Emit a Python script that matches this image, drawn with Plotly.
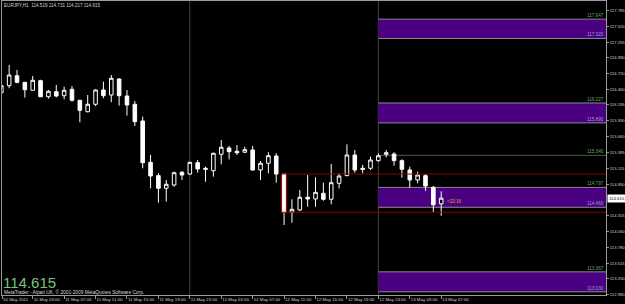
import plotly.graph_objects as go

# ---- data (EURJPY H1) ----
bar_index = list(range(57))
open_ = [116.400, 116.520, 116.689, 116.577, 116.442, 116.605, 116.333, 116.418, 116.350, 116.459,
         116.273, 116.079, 116.205, 116.447, 116.362, 116.633, 116.345, 116.205, 115.922, 115.222,
         114.996, 114.782, 114.838, 115.053, 115.024, 115.216, 115.121, 115.080, 115.358, 115.465,
         115.409, 115.392, 115.431, 115.092, 115.206, 115.329, 115.024, 114.376, 114.415, 114.630,
         114.601, 114.697, 114.596, 114.867, 114.996, 115.346, 115.121, 115.121, 115.250, 115.358,
         115.363, 115.250, 115.092, 114.923, 114.996, 114.799, 114.519]
high = [116.566, 116.870, 116.786, 116.583, 116.684, 116.620, 116.447, 116.532, 116.503, 116.515,
        116.278, 116.362, 116.459, 116.588, 116.701, 116.645, 116.447, 116.261, 115.995, 115.346,
        115.036, 114.923, 115.063, 115.075, 115.230, 115.261, 115.148, 115.385, 115.600, 115.499,
        115.515, 115.487, 115.499, 115.244, 115.392, 115.375, 115.024, 114.596, 114.753, 115.007,
        114.968, 114.877, 115.194, 115.036, 115.527, 115.431, 115.177, 115.317, 115.375, 115.431,
        115.392, 115.273, 115.148, 115.063, 115.024, 114.821, 114.731]
low = [116.362, 116.476, 116.560, 116.317, 116.442, 116.325, 116.300, 116.323, 116.290, 116.249,
       115.900, 116.070, 116.176, 116.306, 116.239, 116.181, 116.012, 115.837, 115.121, 114.782,
       114.538, 114.555, 114.809, 114.923, 115.007, 115.046, 114.894, 114.979, 115.189, 115.273,
       115.346, 115.385, 115.080, 114.923, 115.036, 114.877, 114.161, 114.199, 114.398, 114.470,
       114.470, 114.572, 114.511, 114.782, 114.990, 115.046, 115.036, 115.092, 115.233, 115.307,
       115.165, 114.962, 114.792, 114.867, 114.736, 114.376, 114.317]
close = [116.520, 116.701, 116.577, 116.452, 116.611, 116.333, 116.425, 116.345, 116.442, 116.273,
         116.103, 116.205, 116.447, 116.350, 116.645, 116.350, 116.193, 115.910, 115.216, 114.990,
         114.782, 114.850, 115.046, 115.007, 115.222, 115.109, 115.104, 115.375, 115.477, 115.402,
         115.385, 115.436, 115.092, 115.206, 115.334, 115.024, 114.376, 114.426, 114.630, 114.601,
         114.714, 114.596, 114.877, 114.990, 115.346, 115.092, 115.104, 115.261, 115.334, 115.385,
         115.250, 115.104, 114.923, 115.007, 114.821, 114.504, 114.615]

x_tick_bars = [0.1, 4, 8, 12, 16, 20, 24, 28, 32, 36, 40, 44, 48, 52, 56]
x_tick_labels = ["10 May 2011", "11 May 03:00", "11 May 07:00", "11 May 11:00", "11 May 15:00",
                 "11 May 19:00", "11 May 23:00", "12 May 03:00", "12 May 07:00", "12 May 11:00",
                 "12 May 15:00", "12 May 19:00", "12 May 23:00", "13 May 03:00", "13 May 07:00"]
y_tick_values = [117.785, 117.520, 117.255, 116.990, 116.720, 116.460, 116.195, 115.930, 115.660,
                 115.395, 115.115, 114.850, 114.315, 114.050, 113.780, 113.515, 113.250, 112.980]
y_tick_labels = ["%.3f" % v for v in y_tick_values]

# zones (top, bottom)
zones = [(117.647, 117.320), (116.227, 115.890), (114.797, 114.460), (113.367, 113.030)]
zone_labels = [("117.647", "117.320"), ("116.227", "115.890"), ("114.797", "114.460"), ("113.367", "113.030")]
zone_start_bar = 48
green_level = 115.340
red_levels = (115.024, 114.376)
red_start_bar = 36
separator_bars = [24, 48]
last_price = 114.615
header = "EURJPY,H1  114.519 114.731 114.217 114.615"

X_RANGE = [0.09, 76.98]
Y_RANGE = [112.975, 117.954]

fig = go.Figure()
fig.add_trace(go.Candlestick(
    x=bar_index, open=open_, high=high, low=low, close=close,
    increasing=dict(line=dict(color="#ffffff", width=1), fillcolor="#000000"),
    decreasing=dict(line=dict(color="#ffffff", width=1), fillcolor="#ffffff"),
    whiskerwidth=0, showlegend=False, hoverinfo="skip"))

shapes = []
for sb in separator_bars:
    shapes.append(dict(type="line", xref="x", yref="paper", x0=sb, x1=sb, y0=0, y1=1,
                       line=dict(color="#454545", width=1), layer="below"))
for top, bot in zones:
    shapes.append(dict(type="rect", xref="x", yref="y", x0=zone_start_bar, x1=X_RANGE[1],
                       y0=bot, y1=top, fillcolor="#4b0082", line=dict(width=0), layer="below"))
    for lv in (top, bot):
        shapes.append(dict(type="line", xref="x", yref="y", x0=zone_start_bar, x1=X_RANGE[1],
                           y0=lv, y1=lv, line=dict(color="#8a8a8a", width=1), layer="below"))
shapes.append(dict(type="line", xref="x", yref="y", x0=zone_start_bar, x1=X_RANGE[1],
                   y0=green_level, y1=green_level, line=dict(color="#3f623f", width=1), layer="below"))
for lv in red_levels:
    shapes.append(dict(type="line", xref="x", yref="y", x0=red_start_bar - 0.33, x1=X_RANGE[1],
                       y0=lv, y1=lv, line=dict(color="#8c0000", width=1), layer="above"))
for dx in (-0.33, 0.30):
    shapes.append(dict(type="line", xref="x", yref="y", x0=red_start_bar + dx, x1=red_start_bar + dx,
                       y0=red_levels[1], y1=red_levels[0], line=dict(color="#b00000", width=1), layer="above"))

FAM = "Liberation Sans, Arial"
small = dict(family=FAM, size=4.6)
ann = []
for (top, bot), (lt, lb) in zip(zones, zone_labels):
    ann.append(dict(xref="paper", yref="y", x=1, y=top, xanchor="right", yanchor="bottom", xshift=-1,
                    text=lt, showarrow=False, borderpad=0, font=dict(small, color="#6aa86a")))
    ann.append(dict(xref="paper", yref="y", x=1, y=bot, xanchor="right", yanchor="bottom", xshift=-1,
                    text=lb, showarrow=False, borderpad=0, font=dict(small, color="#9c9cd8")))
ann.append(dict(xref="paper", yref="y", x=1, y=green_level, xanchor="right", yanchor="bottom", xshift=-1,
                text="115.340", showarrow=False, borderpad=0, font=dict(small, color="#6aa86a")))
ann.append(dict(xref="paper", yref="y", x=1, y=last_price, xanchor="left", yanchor="middle", xshift=1,
                text="114.615", showarrow=False, borderpad=1, bgcolor="#ffffff",
                font=dict(family=FAM, size=4.3, color="#000000")))
ann.append(dict(xref="x", yref="y", x=56.6, y=114.567, xanchor="left", yanchor="middle",
                text="&lt;22:16", showarrow=False, borderpad=0, font=dict(small, color="#e0a040")))
ann.append(dict(xref="paper", yref="paper", x=0, y=0.986, xanchor="left", yanchor="middle", xshift=1,
                text=header, showarrow=False, borderpad=0, font=dict(small, color="#d0d0d0")))
ann.append(dict(xref="paper", yref="paper", x=0, y=0.043, xanchor="left", yanchor="middle", xshift=0,
                text="114.615", showarrow=False, borderpad=0,
                font=dict(family=FAM, size=15, color="#7cc47c")))
ann.append(dict(xref="paper", yref="paper", x=0, y=0.009, xanchor="left", yanchor="middle", xshift=1,
                text="MetaTrader - Alpari UK, © 2001-2009 MetaQuotes Software Corp.", showarrow=False,
                borderpad=0, font=dict(family=FAM, size=4.8, color="#d8d8d8")))

fig.update_layout(
    width=625, height=304, margin=dict(l=2, r=19, t=1, b=9, autoexpand=False),
    paper_bgcolor="#000000", plot_bgcolor="#000000",
    shapes=shapes, annotations=ann, boxgap=0.35,
    xaxis=dict(range=X_RANGE, rangeslider=dict(visible=False), showgrid=False, zeroline=False,
               automargin=False, tickangle=0,
               tickmode="array", tickvals=x_tick_bars, ticktext=x_tick_labels,
               ticks="outside", ticklen=3, tickcolor="#9a9a9a", ticklabelposition="outside right",
               tickfont=dict(family=FAM, size=4.4, color="#d0d0d0"), showline=True, linecolor="#9a9a9a",
               linewidth=1, mirror=True),
    yaxis=dict(range=Y_RANGE, side="right", showgrid=False, zeroline=False, automargin=False,
               tickmode="array", tickvals=y_tick_values, ticktext=y_tick_labels,
               ticks="outside", ticklen=2, tickcolor="#9a9a9a", ticklabelstandoff=0,
               tickfont=dict(family=FAM, size=4.2, color="#d0d0d0"), showline=True, linecolor="#9a9a9a",
               linewidth=1, mirror=True),
)

fig.write_html("out.html")
